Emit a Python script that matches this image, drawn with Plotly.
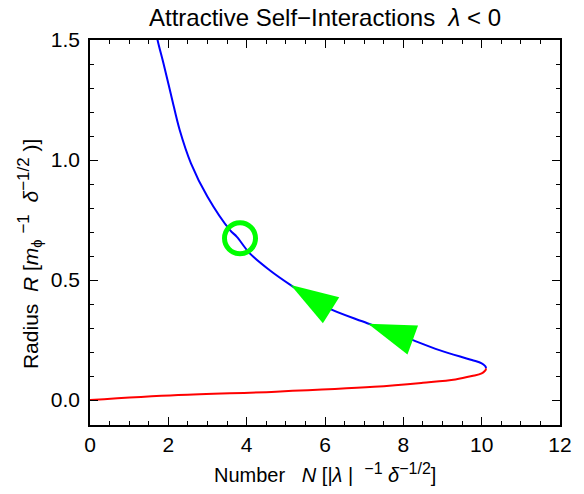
import plotly.graph_objects as go

blue_n = [1.66, 1.725, 1.875, 2.08, 2.29, 2.575, 3.0, 3.575, 3.75, 4.08, 4.58,
          5.125, 6.0, 7.08, 8.08, 8.92, 9.75, 10.0, 10.085, 10.105, 10.11]
blue_r = [1.56, 1.5, 1.403, 1.264, 1.125, 0.9875, 0.847, 0.708, 0.68, 0.611, 0.542,
          0.479, 0.389, 0.32, 0.26, 0.208, 0.167, 0.153, 0.142, 0.137, 0.132]

# unstable branch (red), from the turning point back to the origin
red_n = [10.11, 10.105, 10.085, 10.0, 9.75, 9.33, 8.5, 7.25, 4.75, 2.25, 0.0]
red_r = [0.132, 0.127, 0.122, 0.111, 0.1, 0.086, 0.072, 0.055, 0.035, 0.021, 0.0]

# marked configuration and flow arrows
circle_n = [3.83]
circle_r = [0.674]
arrow_n = [5.125, 7.1]
arrow_r = [0.479, 0.318]
arrow_angle = [-58, -70]

x_ticks = [0, 2, 4, 6, 8, 10, 12]
y_ticks = [0.0, 0.5, 1.0, 1.5]

FONT = 'Liberation Sans, Arial'


def sup(s, px=16):
    return '<sup><span style="font-size:%dpx">%s</span></sup>' % (px, s)


fig = go.Figure()
fig.add_trace(go.Scatter(x=blue_n, y=blue_r, mode='lines', line_shape='spline',
                         line=dict(color='#0000ff', width=2), showlegend=False))
fig.add_trace(go.Scatter(x=red_n, y=red_r, mode='lines', line_shape='spline',
                         line=dict(color='#ff0000', width=2), showlegend=False))
fig.add_trace(go.Scatter(x=arrow_n, y=arrow_r, mode='markers',
                         marker=dict(symbol='arrow', size=50, angle=arrow_angle,
                                     color='#00ff00', line=dict(width=0)),
                         showlegend=False))
fig.add_trace(go.Scatter(x=circle_n, y=circle_r, mode='markers',
                         marker=dict(symbol='circle-open', size=31, color='#00ff00',
                                     line=dict(width=5, color='#00ff00')),
                         showlegend=False))

axis_common = dict(showline=True, linecolor='black', linewidth=1.5, mirror='allticks',
                   ticks='inside', ticklen=8, tickwidth=1.2, tickcolor='black',
                   showgrid=False, zeroline=False,
                   tickfont=dict(family=FONT, size=21, color='black'))

fig.update_xaxes(range=[0, 12], tickvals=x_ticks,
                 minor=dict(dtick=0.5, ticks='inside', ticklen=4, tickcolor='black'),
                 **axis_common)
fig.update_yaxes(range=[-0.104, 1.5], tickvals=y_ticks, tickformat='.1f',
                 ticklabelstandoff=4,
                 minor=dict(dtick=0.1, ticks='inside', ticklen=4, tickcolor='black'),
                 **axis_common)

x_title = ('Number   <i>N</i> [|<i>\u03bb</i> |  ' + sup('\u22121') +
           ' <i>\u03b4</i>' + sup('\u22121/2') + ']')
y_title = ('Radius  <i>R</i> [<i>m</i><sub>\u03d5</sub> ' + sup('\u22121', 17) +
           '  <i>\u03b4</i>' + sup('\u22121/2', 17) + ' )]')

# page body has an 8px margin, so the figure is shrunk by 8px to fit the window
fig.update_layout(
    width=576, height=486,
    paper_bgcolor='white', plot_bgcolor='white',
    font=dict(family=FONT, color='black'),
    margin=dict(l=82, r=14, t=32, b=69),
    title=dict(text='Attractive Self\u2212Interactions  <i>\u03bb</i> < 0',
               xref='paper', x=0.5, xanchor='center', y=0.998, yanchor='top',
               font=dict(size=24, color='black')),
    annotations=[
        dict(text=x_title, xref='paper', yref='paper', x=0.5, y=-0.125,
             xanchor='center', yanchor='middle', showarrow=False,
             font=dict(size=20, color='black')),
        dict(text=y_title, xref='paper', yref='paper', x=-0.129, y=0.445, textangle=-90,
             xanchor='center', yanchor='middle', showarrow=False,
             font=dict(size=21, color='black')),
    ],
)

fig.write_html("out.html")
